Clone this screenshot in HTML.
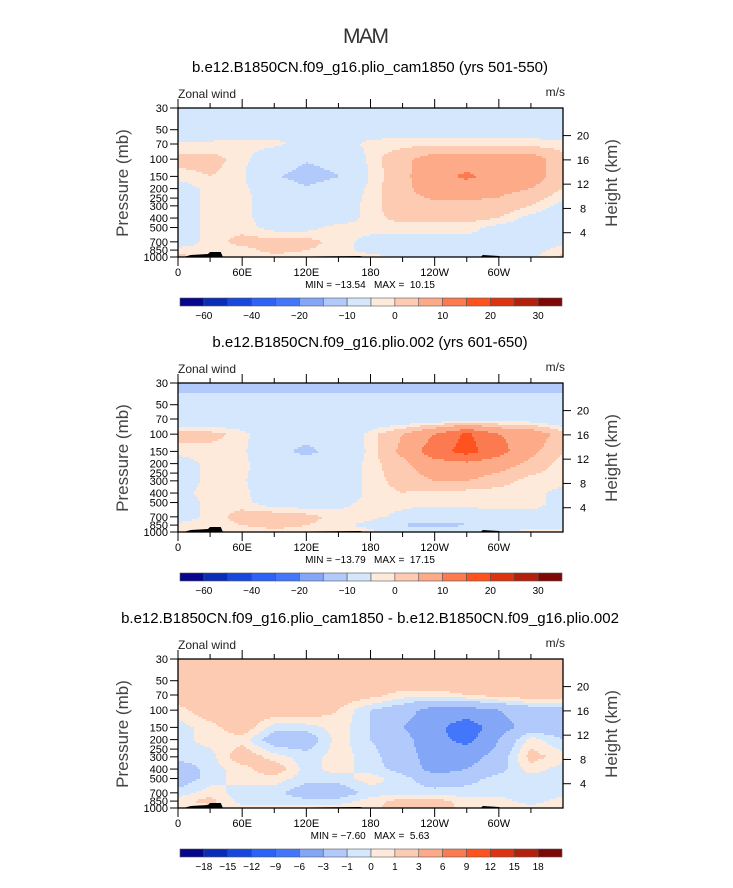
<!DOCTYPE html>
<html><head><meta charset="utf-8"><style>
body{margin:0;background:#fff;}
svg{display:block;font-family:"Liberation Sans",sans-serif;}
</style></head><body>
<svg id="root" width="733" height="888" viewBox="0 0 733 888" xmlns="http://www.w3.org/2000/svg">
<text x="366" y="43" text-anchor="middle" font-size="21" fill="#333" font-weight="300" textLength="46">MAM</text>
</svg>
<script>
// ---- data ----
const lons = [0,30,60,90,120,150,180,210,240,270,300,330,360];
const levels = [30,50,70,100,150,200,300,400,500,700,850,1000];
const pressureTicks = [30,50,70,100,150,200,250,300,400,500,700,850,1000];
const heightTicks = [4,8,12,16,20];
const lonTickVals = [0,60,120,180,240,300];
const lonTickLabels = ["0","60E","120E","180","120W","60W"];
const colors = ["#06078a","#0a2db8","#1747dc","#2c63f7","#4476fb","#83a6f7","#b2c9fb","#d5e7fc","#feeadb","#fdcab2","#fcaa88","#fb7a4f","#ff521f","#dc3311","#b3200b","#7d0806"];
const bounds12 = [-60,-50,-40,-30,-20,-15,-10,0,2,5,10,15,20,25,30];
const bounds3 = [-18,-15,-12,-9,-6,-3,-1,0,1,3,6,9,12,15,18];
const cbLabels12 = ["-60","","-40","","-20","","-10","","0","","10","","20","","30"];
const cbLabels3 = ["-18","-15","-12","-9","-6","-3","-1","0","1","3","6","9","12","15","18"];
const titles = ["b.e12.B1850CN.f09_g16.plio_cam1850 (yrs 501-550)","b.e12.B1850CN.f09_g16.plio.002 (yrs 601-650)","b.e12.B1850CN.f09_g16.plio_cam1850 - b.e12.B1850CN.f09_g16.plio.002"];
const minmax = [["-13.54","10.15"],["-13.79","17.15"],["-7.60","5.63"]];
const field1 = [
[-3,-3,-3,-3,-3,-3,-3,-3,-3,-3,-3,-3,-3],
[-2,-2,-2,-2,-2,-2,-2,-2,-2,-2,-2,-2,-2],
[0.3,0.5,0.8,0.8,-1,-2,1,1.2,1.5,1.5,1.5,1.2,0.8],
[3,3,1,-3,-9,-6,1,4,7,7,7,7,3],
[1,2,1,-9,-14,-10.5,0.5,4,8,11,8,7,3],
[-2,1,1,-3,-9,-4,1,4,7,7,6,5,2],
[-2,1,1,-2,-2,-2,1,4,4,4,4,2,-1],
[-1,0.5,1,-2,-2,-2,1,3,3,3,2,-1,-2],
[-2,1,1,-1,-1,1,1,1,1,1,-1,-2,-2],
[-2,1,3,3,3,1,-1,-1,-1,-1,-1,-1,-1],
[1,0.5,1,3,2,1,-1,-1,-1,-1,-1,-1,1],
[3,1,1,1,1,1,1,-1,-1,-1,-1,-1,3]];
const field2 = [
[-14,-14,-14,-14,-14,-14,-14,-14,-14,-14,-14,-14,-14],
[-6,-6,-6,-6,-6,-6,-6,-6,-6,-6,-6,-6,-6],
[-3,-3,-3,-3,-3,-3,-3,-3,-3,-2,-2,-2,-3],
[3,3,1,-3,-6,-4,1,5,10,16,10,8,3],
[1,1,1,-6,-13,-5,1,6,13,17,12,6,2],
[-2,1,1,-3,-5,-3,1,4,8,9,7,4,1],
[-2,1,0.5,-3,-3,-3,1,3,5,5,3,1,1],
[-1,1,1,-3,-3,-3,1,2,1,1,1,1,-1],
[-2,1,1,-2,-2,-1,1,1,1,1,1,1,-1],
[-2,1,3,4,3,1,1,-1,-3,-2,-1,-1,-1],
[1,1,2,3,2,1,-1,-11,-13,-11,-5,-1,-1],
[2,1,1,1,1,1,1,-1,-1,1,1,1,1]];
const field3 = [
[2,2,2,2,2,2,2,2,2,2,2,2,2],
[2,2,2,2,2,2,2,2,2,2,2,2,2],
[2,2,2,2,2,2,1.5,0.5,0.5,1,1.5,2,2],
[0.5,2,2,2,2,1,-1,-2,-4,-4,-3,-2,-1.5],
[-0.5,0.5,2,-0.5,-0.5,0.5,-1,-3,-5,-8,-4,-2,-2],
[-0.5,0.5,0.5,-2,-2,0.5,-1,-2,-5,-7,-3,0.5,-1],
[-0.5,-0.5,2,0.5,-0.5,0.5,-0.5,-2,-4,-4,-2,1.5,0.5],
[-2,-0.5,0.5,2,-0.5,0.5,-0.5,-1.5,-4,-3,-1.5,0.5,-0.5],
[-2,-0.5,0.5,0.5,-0.5,-0.5,0.5,-0.5,-2,-1.5,-0.5,-0.5,-0.5],
[-0.5,0.5,-0.5,-0.5,-2,-2,-0.5,-0.5,-0.5,-0.5,-0.5,-0.5,-0.5],
[0.5,1.5,-0.5,-0.5,-0.5,-0.5,0.5,1.5,1.5,0.5,0.5,-0.5,0.5],
[0.5,0.5,0.5,0.5,0.5,0.5,0.5,2,2,0.5,0.5,0.5,0.5]];
const fields = [field1, field2, field3];
const boundsSets = [bounds12, bounds12, bounds3];
const labelSets = [cbLabels12, cbLabels12, cbLabels3];

// ---- layout ----
const NS = "http://www.w3.org/2000/svg";
const root = document.getElementById('root');
const X0 = 178, X1 = 563, H = 149;
const offsets = [0, 275, 551];
function mk(tag, attrs, parent){const e=document.createElementNS(NS,tag);for(const k in attrs)e.setAttribute(k,attrs[k]);(parent||root).appendChild(e);return e;}
function xScale(lon){return X0 + (X1-X0)*lon/360;}
function yScale(p, top){return top + H*Math.log(p/30)/Math.log(1000/30);}
function colorFor(v, b){let i=0;while(i<b.length && v>=b[i])i++;return colors[i];}
function sample(f, lon, p){
  let i=Math.max(0,Math.min(11, Math.floor(lon/30))); let tx=(lon-lons[i])/30;
  let lp=Math.log(p); let j=0; while(j<levels.length-2 && Math.log(levels[j+1])<lp) j++;
  let ty=(lp-Math.log(levels[j]))/(Math.log(levels[j+1])-Math.log(levels[j]));
  ty=Math.max(0,Math.min(1,ty));
  const a=f[j][i],b=f[j][i+1],c=f[j+1][i],d=f[j+1][i+1];
  return (a*(1-tx)+b*tx)*(1-ty)+(c*(1-tx)+d*tx)*ty;
}

for(let k=0;k<3;k++){
  const off=offsets[k], top=108+off, bot=top+H;
  const g=mk('g',{});
  
  
  const t=mk('text',{x:370,y:72+off,'text-anchor':'middle','font-size':'15',fill:'#000'},g);
  
  
  t.textContent=titles[k];
  const zw=mk('text',{x:178,y:98+off,'font-size':'12',fill:'#222'},g);
  
  
  zw.textContent='Zonal wind';
  const un=mk('text',{x:565,y:96+off,'text-anchor':'end','font-size':'12',fill:'#222'},g);
  
  
  un.textContent='m/s';
  const cg=mk('g',{'shape-rendering':'crispEdges'},g);
  
  
  const cs=2;
  for(let py=top;py<bot;py+=cs){
    const pc=30*Math.exp(((py+cs/2-top)/H)*Math.log(1000/30));
    let runStart=X0, runColor=null;
    for(let px=X0;px<X1+cs;px+=cs){
      let col=null;
      if(px<X1){const lon=(px+cs/2-X0)/(X1-X0)*360;col=colorFor(sample(fields[k],Math.min(lon,359.9),pc),boundsSets[k]);}
      if(col!==runColor){
        if(runColor!==null){
          const r=mk('rect',{x:runStart,y:py,width:Math.min(px,X1)-runStart,height:Math.min(cs,bot-py)+0.5,fill:runColor},cg);
          
          
        }
        runStart=px; runColor=col;
      }
    }
  }
  const topo=mk('path',{d:`M${xScale(5)} ${bot} L${xScale(12)} ${bot-2} L${xScale(28)} ${bot-3} L${xScale(30)} ${bot-5} L${xScale(40)} ${bot-5} L${xScale(42)} ${bot} Z M${xScale(70)} ${bot} L${xScale(170)} ${bot-1} L${xScale(175)} ${bot} Z M${xScale(283)} ${bot} L${xScale(285)} ${bot-2} L${xScale(300)} ${bot-1} L${xScale(302)} ${bot} Z`,fill:'#000'},g);
  
  
  const fr=mk('rect',{x:X0,y:top,width:X1-X0,height:H,fill:'none',stroke:'#000','stroke-width':'1.3'},g);
  
  
  for(const p of pressureTicks){
    const y=yScale(p,top);
    const l=mk('line',{x1:170,x2:X0,y1:y,y2:y,stroke:'#000','stroke-width':'1'},g);
    
    
    const tl=mk('text',{x:168,y:y+4,'text-anchor':'end','font-size':'11',fill:'#000'},g);
    
    
    tl.textContent=p;
  }
  for(const z of heightTicks){
    const y=yScale(1000*Math.exp(-z/7),top);
    const l=mk('line',{x1:X1,x2:X1+8,y1:y,y2:y,stroke:'#000','stroke-width':'1'},g);
    
    
    const tl=mk('text',{x:X1+20,y:y+4,'text-anchor':'middle','font-size':'11',fill:'#000'},g);
    
    
    tl.textContent=z;
  }
  for(let lon=0;lon<360;lon+=30){
    const x=xScale(lon), len=(lon%60===0)?9:5;
    const a=mk('line',{x1:x,x2:x,y1:top,y2:top-len,stroke:'#000','stroke-width':'1'},g);
    
    
    const b=mk('line',{x1:x,x2:x,y1:bot,y2:bot+len,stroke:'#000','stroke-width':'1'},g);
    
    
  }
  lonTickVals.forEach((v,i)=>{
    const tl=mk('text',{x:xScale(v),y:bot+19,'text-anchor':'middle','font-size':'11',fill:'#000'},g);
    
    
    tl.textContent=lonTickLabels[i];
  });
  const yt=mk('text',{x:0,y:0,'text-anchor':'middle','font-size':'17',fill:'#444',transform:`translate(128 ${top+75}) rotate(-90)`},g);
  
  
  yt.textContent='Pressure (mb)';
  const ht=mk('text',{x:0,y:0,'text-anchor':'middle','font-size':'17',fill:'#444',transform:`translate(617 ${top+75}) rotate(-90)`},g);
  
  
  ht.textContent='Height (km)';
  const mm=mk('text',{x:370,y:bot+31,'text-anchor':'middle','font-size':'10',fill:'#000'},g);
  
  
  mm.textContent='MIN = '+minmax[k][0].replace('-','\u2212')+'\u00a0\u00a0\u00a0MAX =\u00a0\u00a0'+minmax[k][1];
  const cbY=298+off, cbX=180, cbW=382/16;
  for(let c=0;c<16;c++){
    const r=mk('rect',{x:cbX+c*cbW,y:cbY,width:cbW,height:8,fill:colors[c],stroke:'#555','stroke-width':'0.6'},g);
    
    
  }
  labelSets[k].forEach((s,i)=>{
    if(!s)return;
    const tl=mk('text',{x:cbX+(i+1)*cbW,y:cbY+21,'text-anchor':'middle','font-size':'10',fill:'#000'},g);
    
    
    tl.textContent=s.replace('-','\u2212');
  });
}
</script>
</body></html>
